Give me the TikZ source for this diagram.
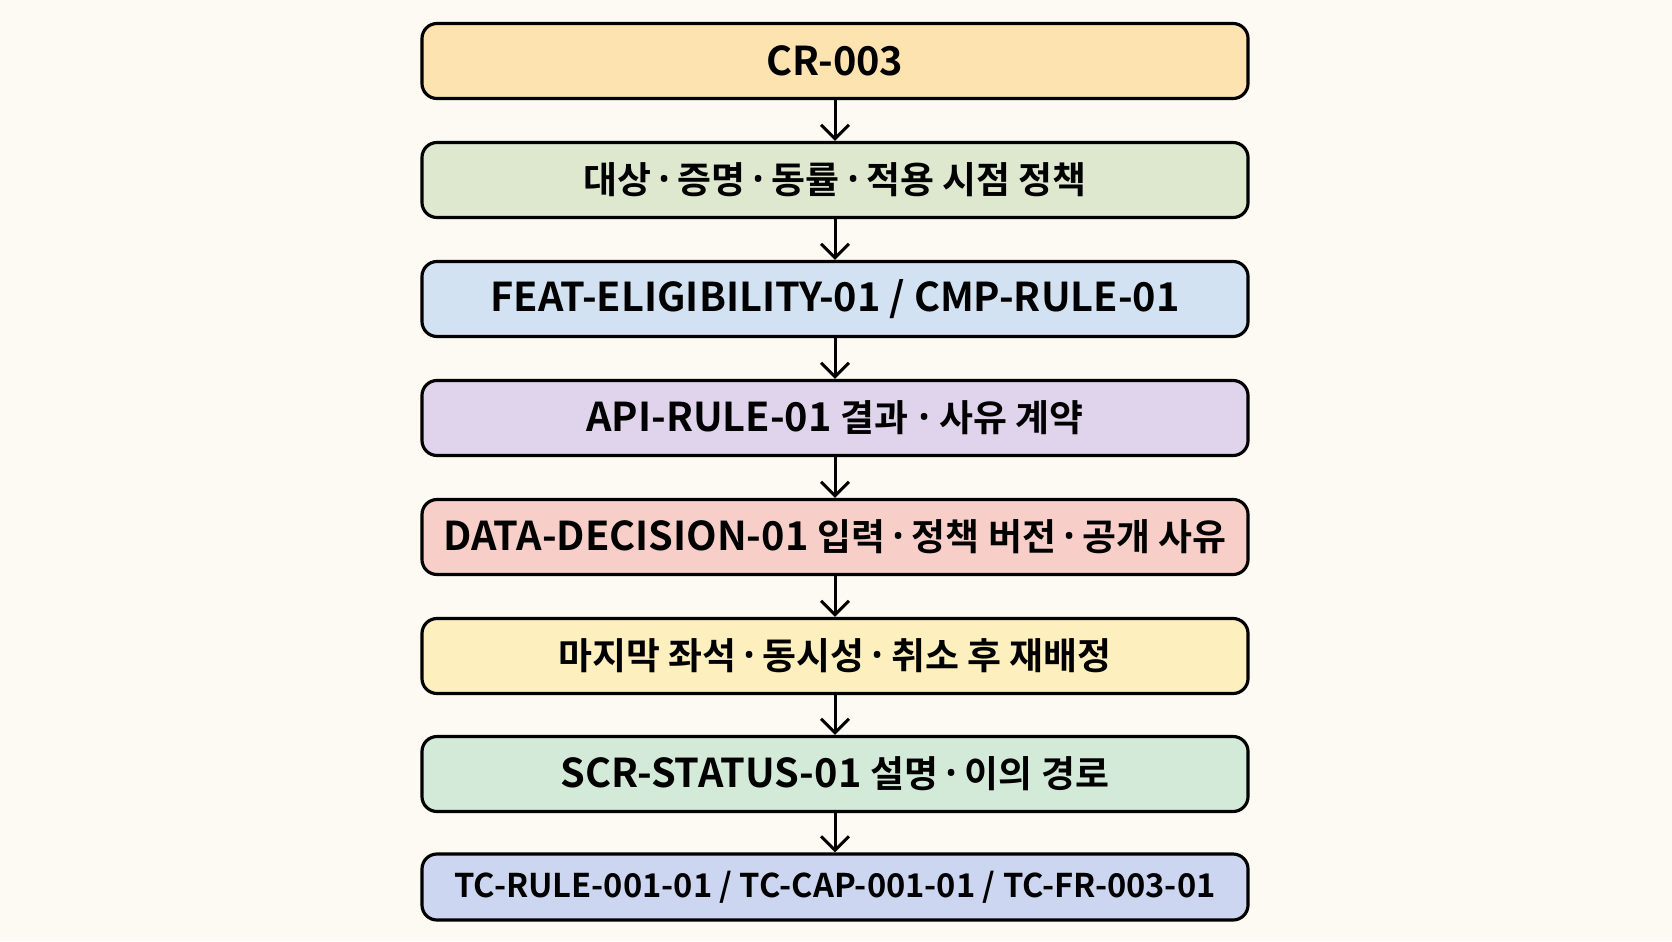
\documentclass[tikz,border=0pt]{standalone}
\usepackage{fontspec}
\setmainfont{Noto Sans CJK KR}
\newfontfamily\boxfont{Noto Sans CJK KR Bold}
\newfontfamily\dotfont{Noto Sans}
\newcommand{\kr}[1]{{\fontsize{10.5}{12}\selectfont #1}}
\newcommand{\bigdot}{\raisebox{-1pt}{\dotfont\bfseries\fontsize{15}{15}\selectfont ·}}
\newcommand{\mdot}{\,\bigdot\,}
\usetikzlibrary{arrows.meta}

\definecolor{pagebg}{HTML}{FDFAF3}
\definecolor{crfill}{HTML}{FDE3B0}
\definecolor{policyfill}{HTML}{DDE8CF}
\definecolor{featfill}{HTML}{D3E2F2}
\definecolor{apifill}{HTML}{E0D4EC}
\definecolor{datafill}{HTML}{F7CFC8}
\definecolor{seatfill}{HTML}{FDF0BE}
\definecolor{scrfill}{HTML}{D3EAD9}
\definecolor{tcfill}{HTML}{CCD6F0}

\begin{document}
\begin{tikzpicture}[
    stage/.style={draw, rounded corners=0.15cm, line width=0.9pt,
      minimum width=8.26cm, minimum height=0.75cm, inner sep=0pt,
      anchor=center, font=\boxfont\fontsize{11.3}{13}\selectfont},
    flow/.style={line width=0.85pt, -{Straight Barb[length=1.4mm,width=2.8mm]}}
  ]
      \fill [pagebg] (0,0) rectangle (16.72,-9.41);
      \useasboundingbox (0,0) rectangle (16.72,-9.41);

      \coordinate (c1) at (8.35,-0.61);
      \coordinate (c2) at (8.35,-1.80);
      \coordinate (c3) at (8.35,-2.99);
      \coordinate (c4) at (8.35,-4.18);
      \coordinate (c5) at (8.35,-5.37);
      \coordinate (c6) at (8.35,-6.56);
      \coordinate (c7) at (8.35,-7.74);
      \coordinate (c8) at (8.35,-8.87);

      \node [stage, fill=crfill] (cr) at (c1) {CR-003};

      \node [stage, fill=policyfill] (policy) at (c2)
      {\kr{대상\mdot 증명\mdot 동률\mdot 적용 시점 정책}};

      \node [stage, fill=featfill] (feat) at (c3)
      {FEAT-ELIGIBILITY-01 / CMP-RULE-01};

      \node [stage, fill=apifill] (api) at (c4)
      {API-RULE-01 \kr{결과 \bigdot{} 사유 계약}};

      \node [stage, fill=datafill] (data) at (c5)
      {DATA-DECISION-01 \kr{입력\mdot 정책 버전\mdot 공개 사유}};

      \node [stage, fill=seatfill] (seat) at (c6)
      {\kr{마지막 좌석\mdot 동시성\mdot 취소 후 재배정}};

      \node [stage, fill=scrfill] (scr) at (c7)
      {SCR-STATUS-01 \kr{설명\mdot 이의 경로}};

      \node [stage, fill=tcfill, minimum height=0.66cm,
      font=\boxfont\fontsize{9.3}{11}\selectfont] (tc) at (c8)
      {TC-RULE-001-01 / TC-CAP-001-01 / TC-FR-003-01};

      \draw [flow] (cr) -- (policy);
      \draw [flow] (policy) -- (feat);
      \draw [flow] (feat) -- (api);
      \draw [flow] (api) -- (data);
      \draw [flow] (data) -- (seat);
      \draw [flow] (seat) -- (scr);
      \draw [flow] (scr) -- (tc);
  \end{tikzpicture}
\end{document}
